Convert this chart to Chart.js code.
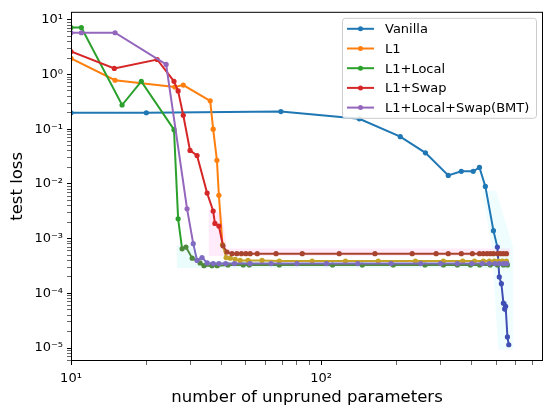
<!DOCTYPE html>
<html>
<head>
<meta charset="utf-8">
<title>test loss vs unpruned parameters</title>
<script src="https://cdn.jsdelivr.net/npm/chart.js@4.4.0/dist/chart.umd.min.js"></script>
<style>
  html, body { margin: 0; padding: 0; background: #fff; }
  #wrap { width: 550px; height: 413px; position: relative; }
</style>
</head>
<body>
<div id="wrap"><canvas id="lossChart" width="550" height="413"></canvas></div>
<script>
// values (x = unpruned parameters, y = test loss)
const vanillaX = [10, 20, 69, 142, 207, 261, 322, 363, 405, 429, 453, 488, 506, 515, 525, 535, 541, 546, 555, 562];
const vanillaY = [0.2, 0.2, 0.21, 0.155, 0.073, 0.037, 0.0143, 0.017, 0.017, 0.02, 0.009, 0.0014, 0.0007, 0.0002, 0.00015, 0.000066, 0.000052, 0.000058, 0.000016, 0.0000115];

const l1X = [10, 15, 26, 28.1, 36, 37, 38.3, 39, 40.3, 41.7, 43.3, 45.3, 47.4, 51, 58, 68, 92, 125, 169, 238, 308, 368, 410, 445, 470, 492, 510, 530, 550];
const l1Y = [1.97, 0.785, 0.59, 0.64, 0.33, 0.10, 0.027, 0.0062, 0.00078, 0.00045, 0.00044, 0.00042, 0.0004, 0.0004, 0.0004, 0.00039, 0.00039, 0.00039, 0.00039, 0.00039, 0.00039, 0.00039, 0.00039, 0.00039, 0.00039, 0.00039, 0.00039, 0.00039, 0.00039];

const localX = [10, 11, 16, 19.1, 25.8, 26.8, 27.8, 28.8, 30.5, 32.8, 34, 36.6, 38.4, 42.4, 48.8, 51.6, 68, 111, 146, 194, 260, 308, 350, 395, 430, 474, 506, 535, 555];
const localY = [7.2, 7.2, 0.277, 0.75, 0.098, 0.0023, 0.00065, 0.0007, 0.00044, 0.00036, 0.00032, 0.00032, 0.00032, 0.00033, 0.00033, 0.00033, 0.00033, 0.00033, 0.00033, 0.00033, 0.00033, 0.00033, 0.00033, 0.00033, 0.00033, 0.00033, 0.00033, 0.00033, 0.00033];

const swapX = [10, 14.9, 22.1, 25.8, 26.8, 28.1, 29.9, 31.9, 35, 37, 37.6, 39, 40.5, 42, 44, 46, 48, 50, 52, 55.5, 66, 84, 118, 164, 231, 288, 322, 363, 402, 429, 444, 460, 474, 488, 506, 520, 535, 550];
const swapY = [2.63, 1.29, 1.88, 0.75, 0.5, 0.18, 0.041, 0.033, 0.0068, 0.0032, 0.0019, 0.0017, 0.00074, 0.00057, 0.00053, 0.00053, 0.00053, 0.00053, 0.00053, 0.00053, 0.00053, 0.00053, 0.00053, 0.00053, 0.00053, 0.00053, 0.00053, 0.00053, 0.00053, 0.00053, 0.00053, 0.00053, 0.00053, 0.00053, 0.00053, 0.00053, 0.00053, 0.00053];

const bmtX = [10, 11, 15, 24, 29.1, 30.8, 31.9, 33.4, 35, 37, 39, 41.5, 45, 52, 63, 80, 105, 140, 190, 250, 300, 350, 400, 440, 470, 495, 515, 535, 552];
const bmtY = [5.8, 5.8, 5.8, 1.53, 0.0035, 0.00081, 0.0004, 0.00045, 0.00036, 0.00035, 0.00035, 0.00035, 0.00035, 0.00035, 0.00035, 0.00035, 0.00035, 0.00035, 0.00035, 0.00035, 0.00035, 0.00035, 0.00035, 0.00035, 0.00035, 0.00035, 0.00035, 0.00035, 0.00035];

// faint spread bands behind the curves
const swapBandX = [35.5, 40, 42, 570, 570, 35.5];
const swapBandY = [0.0033, 0.003, 0.00066, 0.00066, 0.00048, 0.00048];
const localBandX = [26.5, 30, 33, 570, 570, 26.5];
const localBandY = [0.00075, 0.00075, 0.00039, 0.00039, 0.00029, 0.00029];
const vanillaBandX = [440, 500, 585, 585, 510, 480];
const vanillaBandY = [0.0075, 0.0075, 0.0007, 0.0000093, 0.0000093, 0.0007];

const seriesNames = ['Vanilla', 'L1', 'L1+Local', 'L1+Swap', 'L1+Local+Swap(BMT)'];
const xDecades = [10, 100];
const yDecades = [1e-5, 1e-4, 1e-3, 1e-2, 1e-1, 1, 10];
const X_MIN = 10, X_MAX = 770;
const Y_MIN = 5.8e-6, Y_MAX = 14;

const seriesColors = ['#1f77b4', '#ff7f0e', '#2ca02c', '#d62728', '#9467bd'];
const settledColors = ['#3f4fb4', '#c4a228', '#4f8a3c', '#a8432e', '#7e6cc0'];
const SETTLE = 1e-3;

Chart.defaults.font.family = "'DejaVu Sans', sans-serif";
Chart.defaults.color = '#000';

function toPoints(xs, ys) {
    return xs.map((x, k) => ({ x: x, y: ys[k] }));
}

function makeSeries(i, xs, ys) {
    return {
        label: seriesNames[i],
        data: toPoints(xs, ys),
        borderColor: seriesColors[i],
        backgroundColor: seriesColors[i],
        borderWidth: 2,
        pointRadius: 2.6,
        pointHoverRadius: 2.6,
        pointBorderWidth: 0,
        pointBackgroundColor: ctx => (ctx.raw && ctx.raw.y < SETTLE) ? settledColors[i] : seriesColors[i],
        segment: {
            borderColor: ctx => ctx.p0.parsed.y < SETTLE ? settledColors[i] : undefined
        },
        tension: 0,
        fill: false,
        order: 5 - i
    };
}

function withMinors(decades, lo, hi) {
    const out = [];
    const first = Math.pow(10, Math.floor(Math.log10(lo)));
    for (let d = first; d <= hi; d *= 10) {
        for (let m = 1; m <= 9; m++) {
            const v = m * d;
            if (v >= lo * 0.9999 && v <= hi * 1.0001) out.push(v);
        }
    }
    return out;
}

function isDecade(v) {
    const l = Math.log10(v);
    return Math.abs(l - Math.round(l)) < 1e-6;
}

const SUP = { '-': '\u207b', '0': '\u2070', '1': '\u00b9', '2': '\u00b2', '3': '\u00b3', '4': '\u2074', '5': '\u2075', '6': '\u2076', '7': '\u2077', '8': '\u2078', '9': '\u2079' };
function powLabel(v) {
    const e = String(Math.round(Math.log10(v)));
    return '10' + e.split('').map(c => SUP[c]).join('');
}

// bands are drawn straight through the chart scales, underneath the lines
const bandPlugin = {
    id: 'bands',
    beforeDatasetsDraw(chart) {
        const { ctx, chartArea, scales } = chart;
        const bands = [
            [vanillaBandX, vanillaBandY, 'rgba(0, 215, 230, 0.06)'],
            [localBandX, localBandY, 'rgba(0, 215, 230, 0.08)'],
            [swapBandX, swapBandY, 'rgba(255, 90, 210, 0.12)']
        ];
        ctx.save();
        ctx.beginPath();
        ctx.rect(chartArea.left, chartArea.top, chartArea.width, chartArea.height);
        ctx.clip();
        bands.forEach(([xs, ys, color]) => {
            ctx.beginPath();
            xs.forEach((x, k) => {
                const px = scales.x.getPixelForValue(x);
                const py = scales.y.getPixelForValue(ys[k]);
                if (k === 0) ctx.moveTo(px, py); else ctx.lineTo(px, py);
            });
            ctx.closePath();
            ctx.fillStyle = color;
            ctx.fill();
        });
        ctx.restore();
    }
};

// matplotlib-like frame and legend inside the axes
const framePlugin = {
    id: 'frameLegend',
    afterDraw(chart) {
        const { ctx, chartArea } = chart;
        ctx.save();
        ctx.strokeStyle = '#000';
        ctx.lineWidth = 1;
        ctx.strokeRect(chartArea.left + 0.5, chartArea.top + 0.5, chartArea.width - 1, chartArea.height - 1);

        const w = 194, h = 100;
        const x0 = chartArea.right - 7 - w;
        const y0 = chartArea.top + 6;
        ctx.beginPath();
        ctx.roundRect(x0 + 0.5, y0 + 0.5, w, h, 3);
        ctx.fillStyle = 'rgba(255,255,255,0.85)';
        ctx.fill();
        ctx.strokeStyle = '#cccccc';
        ctx.stroke();

        ctx.font = "13px 'DejaVu Sans', sans-serif";
        ctx.textBaseline = 'middle';
        ctx.textAlign = 'left';
        seriesNames.forEach((name, i) => {
            const cy = y0 + 11 + i * 19.7;
            ctx.strokeStyle = seriesColors[i];
            ctx.lineWidth = 2;
            ctx.beginPath();
            ctx.moveTo(x0 + 5, cy);
            ctx.lineTo(x0 + 32, cy);
            ctx.stroke();
            ctx.fillStyle = seriesColors[i];
            ctx.beginPath();
            ctx.arc(x0 + 18.5, cy, 2.5, 0, Math.PI * 2);
            ctx.fill();
            ctx.fillStyle = '#000';
            ctx.fillText(name, x0 + 43, cy + 1);
        });
        ctx.restore();
    }
};

const xTickValues = withMinors(xDecades, X_MIN, X_MAX);
const yTickValues = withMinors(yDecades, Y_MIN, Y_MAX);

new Chart(document.getElementById('lossChart'), {
    type: 'line',
    data: {
        datasets: [
            makeSeries(0, vanillaX, vanillaY),
            makeSeries(1, l1X, l1Y),
            makeSeries(2, localX, localY),
            makeSeries(3, swapX, swapY),
            makeSeries(4, bmtX, bmtY)
        ]
    },
    options: {
        responsive: false,
        animation: false,
        devicePixelRatio: 1,
        layout: { padding: { top: 9, right: 7, left: 0, bottom: 0 } },
        plugins: {
            legend: { display: false },
            tooltip: { enabled: false }
        },
        scales: {
            x: {
                type: 'logarithmic',
                min: X_MIN,
                max: X_MAX,
                afterFit: s => { s.height = 52; },
                afterBuildTicks: s => { s.ticks = xTickValues.map(v => ({ value: v })); },
                border: { display: false },
                grid: {
                    drawOnChartArea: false,
                    drawTicks: true,
                    tickLength: 4,
                    tickColor: '#000',
                    tickWidth: ctx => (ctx.tick && isDecade(ctx.tick.value)) ? 1 : 0.6
                },
                ticks: {
                    autoSkip: false,
                    maxRotation: 0,
                    padding: 6,
                    font: { size: 13 },
                    callback: v => isDecade(v) ? powLabel(v) : ''
                },
                title: {
                    display: true,
                    text: 'number of unpruned parameters',
                    font: { size: 16.5 },
                    padding: { top: 0, bottom: 5 }
                }
            },
            y: {
                type: 'logarithmic',
                min: Y_MIN,
                max: Y_MAX,
                afterFit: s => { s.width = 71; },
                afterBuildTicks: s => { s.ticks = yTickValues.map(v => ({ value: v })); },
                border: { display: false },
                grid: {
                    drawOnChartArea: false,
                    drawTicks: true,
                    tickLength: 4,
                    tickColor: '#000',
                    tickWidth: ctx => (ctx.tick && isDecade(ctx.tick.value)) ? 1 : 0.6
                },
                ticks: {
                    autoSkip: false,
                    padding: 4,
                    font: { size: 13 },
                    callback: v => isDecade(v) ? powLabel(v) : ''
                },
                title: {
                    display: true,
                    text: 'test loss',
                    font: { size: 16.5 },
                    padding: { top: 8, bottom: 0 }
                }
            }
        }
    },
    plugins: [bandPlugin, framePlugin]
});
</script>
</body>
</html>
